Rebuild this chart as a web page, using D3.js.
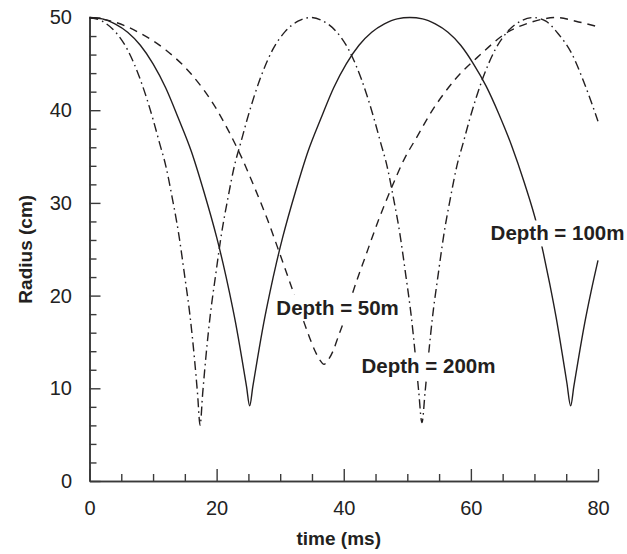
<!DOCTYPE html>
<html>
<head>
<meta charset="utf-8">
<script src="https://cdn.jsdelivr.net/npm/d3@7"></script>
<style>
  html, body { margin: 0; padding: 0; background: #fff; }
  svg { display: block; font-family: "Liberation Sans", Arial, Helvetica, sans-serif; }
</style>
</head>
<body>
<svg id="chart" width="627" height="554"></svg>
<script>
// Bubble radius vs. time for three depths (time in ms, radius in cm)
const depth100Time   = [0, 2, 4, 6, 8, 10, 12, 14, 16, 18, 20, 21, 22, 23, 24, 24.7, 25.2,
                        25.7, 26.4, 27.4, 28.4, 29.4, 30.4, 32.4, 34.4, 36.4, 38.4, 40.4, 42.4, 44.4, 46.4, 48.4, 50.4,
                        52.4, 54.4, 56.4, 58.4, 60.4, 62.4, 64.4, 66.4, 68.4, 70.4, 71.4, 72.4, 73.4, 74.4, 75.1, 75.7,
                        76.2, 76.9, 77.9, 78.9, 80];
const depth100Radius = [50, 49.85, 49.3, 48.4, 47.0, 45.0, 42.4, 39.1, 35.6, 31.2, 26.3, 23.5, 20.4, 17.0, 13.1, 10.2, 8.1,
                        10.2, 13.1, 17.0, 20.4, 23.5, 26.3, 31.2, 35.6, 39.1, 42.4, 45.0, 47.0, 48.4, 49.3, 49.85, 50,
                        49.85, 49.3, 48.4, 47.0, 45.0, 42.6, 39.6, 36.2, 32.2, 27.6, 24.6, 21.3, 17.7, 13.6, 10.6, 8.1,
                        10.2, 13.1, 17.0, 20.4, 23.8];

const depth200Time   = [0, 2, 4, 6, 8, 10, 11, 12, 13, 14, 15, 15.8, 16.5, 17.0, 17.4,
                        17.8, 18.3, 19.0, 19.8, 20.8, 21.8, 22.8, 23.8, 24.8, 26.8, 28.8, 30.8, 32.8, 34.8,
                        36.8, 38.8, 40.8, 42.8, 44.8, 45.8, 46.8, 47.8, 48.8, 49.8, 50.6, 51.3, 51.8, 52.3,
                        52.8, 53.3, 54.0, 54.8, 55.8, 56.8, 57.8, 58.8, 59.8, 61.8, 63.8, 65.8, 67.8, 69.8,
                        71.8, 73.8, 75.8, 77.8, 80];
const depth200Radius = [50, 49.6, 48.5, 46.5, 43.3, 39.0, 36.5, 34.0, 30.6, 26.8, 22.0, 17.9, 13.3, 9.4, 6.0,
                        9.4, 13.3, 17.9, 22.0, 26.8, 30.6, 34.0, 36.5, 39.0, 43.3, 46.5, 48.5, 49.6, 50,
                        49.6, 48.5, 46.5, 43.3, 39.0, 36.5, 34.0, 30.6, 26.8, 22.0, 17.9, 13.3, 9.6, 6.3,
                        9.6, 13.3, 17.9, 22.0, 26.8, 30.6, 34.0, 36.5, 39.0, 43.3, 46.5, 48.5, 49.6, 50,
                        49.6, 48.2, 46.2, 43.0, 38.8];

const depth50Time    = [0, 4, 8, 12, 16, 20, 22, 24, 26, 28, 30, 32, 33.5, 34.5, 35.5, 36.2, 36.9,
                        37.6, 38.3, 39.2, 40.2, 41.5, 43.5, 45.5, 47.5, 49.5, 51.5, 53.5, 57.5, 61.5, 65.5, 69.5, 73.5,
                        76.5, 80];
const depth50Radius  = [50, 49.5, 48.3, 46.5, 43.9, 40.1, 37.6, 34.8, 31.6, 28.2, 24.4, 20.5, 17.6, 15.7, 14.0, 13.1, 12.6,
                        13.1, 14.0, 15.7, 17.6, 20.5, 24.4, 28.2, 31.6, 34.7, 37.1, 39.5, 43.3, 46.0, 48.3, 49.5, 50,
                        49.6, 49.0];

const xTicks      = [0, 20, 40, 60, 80];
const xMinorTicks = [5, 10, 15, 25, 30, 35, 45, 50, 55, 65, 70, 75];
const yTicks      = [0, 10, 20, 30, 40, 50];
const yMinorTicks = [2, 4, 6, 8, 12, 14, 16, 18, 22, 24, 26, 28, 32, 34, 36, 38, 42, 44, 46, 48];

const labelText   = ["Depth = 100m", "Depth = 50m", "Depth = 200m"];
const labelTime   = [63.1, 29.4, 42.8];
const labelRadius = [25.95, 17.955, 11.7];

const svg = d3.select("#chart");
const ink = "#231f20";
const axisInk = "#3a3a3a";

const x = d3.scaleLinear().domain([0, 80]).range([89.5, 598]);
const y = d3.scaleLinear().domain([0, 50]).range([481, 17.5]);

function styleAxis(g) {
  g.select(".domain").attr("stroke", axisInk).attr("stroke-width", 1.6);
  g.selectAll(".tick line").attr("stroke", axisInk).attr("stroke-width", 1.4);
  g.selectAll(".tick text").attr("fill", "#222").attr("font-size", 20);
}

// Minor ticks first, majors on top; all ticks point inward
svg.append("g")
  .attr("transform", `translate(0,${y(0)})`)
  .call(d3.axisBottom(x).tickValues(xMinorTicks).tickSizeInner(-7).tickSizeOuter(0).tickFormat(""))
  .call(styleAxis);
svg.append("g")
  .attr("transform", `translate(0,${y(0)})`)
  .call(d3.axisBottom(x).tickValues(xTicks).tickSizeInner(-12).tickSizeOuter(0).tickPadding(20).tickFormat(d3.format("d")))
  .call(styleAxis);

svg.append("g")
  .attr("transform", `translate(${x(0)},0)`)
  .call(d3.axisLeft(y).tickValues(yMinorTicks).tickSizeInner(-7).tickSizeOuter(0).tickFormat(""))
  .call(styleAxis);
svg.append("g")
  .attr("transform", `translate(${x(0)},0)`)
  .call(d3.axisLeft(y).tickValues(yTicks).tickSizeInner(-11).tickSizeOuter(0).tickPadding(17.5).tickFormat(d3.format("d")))
  .call(styleAxis);

// Radius curves
const line = d3.line()
  .x(d => x(d[0]))
  .y(d => y(d[1]))
  .curve(d3.curveMonotoneX);

const series = [
  { t: depth100Time, r: depth100Radius, dash: null },
  { t: depth50Time,  r: depth50Radius,  dash: "8,6" },
  { t: depth200Time, r: depth200Radius, dash: "9,4,1.6,4" }
];

series.forEach(s => {
  const pts = s.t.map((t, i) => [t, s.r[i]]);
  svg.append("path")
    .datum(pts)
    .attr("d", line)
    .attr("fill", "none")
    .attr("stroke", ink)
    .attr("stroke-width", 1.4)
    .attr("stroke-linejoin", "round")
    .attr("stroke-dasharray", s.dash);
});

// Curve labels on white boxes
labelText.forEach((txt, i) => {
  const g = svg.append("g");
  const rect = g.append("rect").attr("fill", "#fff");
  const t = g.append("text")
    .attr("x", x(labelTime[i]))
    .attr("y", y(labelRadius[i]))
    .attr("font-size", 20.5)
    .attr("font-weight", "bold")
    .attr("fill", ink)
    .text(txt);
  const b = t.node().getBBox();
  rect.attr("x", b.x - 3).attr("y", b.y - 1)
      .attr("width", b.width + 6).attr("height", b.height + 3);
});

// Axis titles
svg.append("text")
  .attr("x", (x(0) + x(80)) / 2 - 5)
  .attr("y", 545)
  .attr("text-anchor", "middle")
  .attr("font-size", 19)
  .attr("font-weight", "bold")
  .attr("fill", ink)
  .text("time (ms)");

svg.append("text")
  .attr("transform", `translate(32,${(y(0) + y(50)) / 2}) rotate(-90)`)
  .attr("text-anchor", "middle")
  .attr("font-size", 19)
  .attr("font-weight", "bold")
  .attr("fill", ink)
  .text("Radius (cm)");
</script>
</body>
</html>
